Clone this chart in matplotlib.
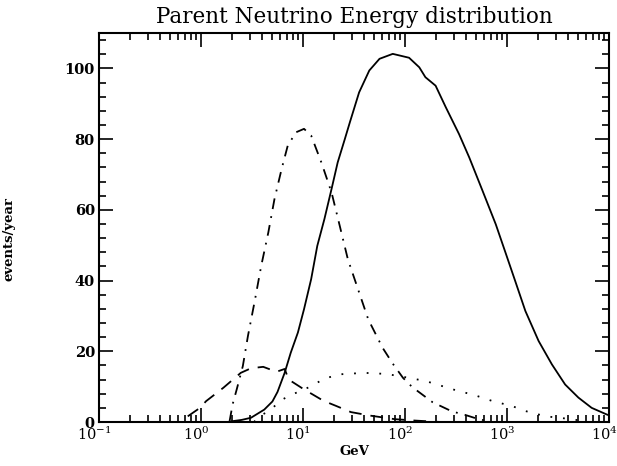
import numpy as np
import matplotlib
matplotlib.use("Agg")
import matplotlib.pyplot as plt
from matplotlib.ticker import LogLocator, MultipleLocator, LogFormatterMathtext
from matplotlib.transforms import ScaledTranslation

plt.rcParams['font.family'] = 'DejaVu Serif'
plt.rcParams['mathtext.fontset'] = 'dejavuserif'
plt.rcParams['mathtext.default'] = 'bf'

# curves: log10(E/GeV) and events/year
solid_logE = [0.28, 0.30, 0.40, 0.49, 0.62, 0.70, 0.75, 0.82, 0.88, 0.95, 1.01, 1.08,
              1.14, 1.21, 1.28, 1.34, 1.41, 1.46, 1.55, 1.65, 1.75, 1.88, 2.04, 2.14,
              2.20, 2.30, 2.40, 2.53, 2.63, 2.76, 2.89, 2.99, 3.08, 3.18, 3.31, 3.44,
              3.57, 3.70, 3.83, 3.98, 4.00]
solid_val = [0.0, 0.2, 0.6, 1.2, 3.5, 5.8, 8.5, 13.9, 19.6, 25.3, 31.9, 40.4,
             49.8, 57.4, 65.9, 73.4, 80.0, 84.8, 93.2, 99.4, 102.7, 104.1, 103.0, 100.3,
             97.5, 95.1, 89.0, 81.4, 74.8, 65.4, 55.9, 47.5, 39.9, 31.4, 22.9, 16.3,
             10.6, 6.9, 4.0, 2.1, 1.9]

dashdot_logE = [0.28, 0.31, 0.35, 0.41, 0.46, 0.53, 0.59, 0.66, 0.72, 0.79, 0.85, 0.93,
                1.01, 1.08, 1.18, 1.28, 1.36, 1.44, 1.54, 1.64, 1.78, 1.88, 1.98, 2.07,
                2.27, 2.46, 2.59, 2.70, 2.80]
dashdot_val = [0.2, 5.0, 9.2, 15.8, 24.3, 34.7, 44.1, 53.6, 63.0, 71.5, 78.1, 81.9,
               82.9, 81.0, 73.4, 64.9, 55.5, 46.0, 37.5, 29.0, 21.0, 16.5, 12.5, 9.9,
               5.6, 3.0, 2.0, 1.0, 0.3]

dashed_logE = [-0.13, -0.01, 0.05, 0.22, 0.39, 0.49, 0.61, 0.74, 0.82, 0.86, 1.00,
               1.20, 1.32, 1.47, 1.66, 1.90, 2.10, 2.35]
dashed_val = [1.6, 4.0, 5.9, 9.7, 13.9, 15.2, 15.6, 14.2, 15.0, 12.0, 9.4,
              6.0, 4.6, 2.8, 1.8, 0.8, 0.4, 0.0]

dotted_logE = [0.52, 0.57, 0.66, 0.80, 0.88, 1.08, 1.21, 1.37, 1.60, 1.81, 1.94,
               2.20, 2.53, 2.66, 2.86, 3.05, 3.18, 3.38, 3.57, 3.70]
dotted_val = [0.0, 1.6, 3.0, 6.4, 7.6, 10.1, 12.3, 13.5, 13.9, 13.6, 13.0,
              11.6, 8.7, 7.8, 5.9, 4.5, 3.1, 1.6, 1.0, 0.5]

fig = plt.figure(figsize=(6.17, 4.66), dpi=100)
ax = fig.add_axes([99 / 617, 1 - 422 / 466, 510 / 617, 389 / 466])

lw = 1.3
ax.plot(10 ** np.array(solid_logE), solid_val, color='black', lw=lw,
        solid_joinstyle='round')
ax.plot(10 ** np.array(dashdot_logE), dashdot_val, color='black', lw=lw,
        dashes=[6, 4, 1, 4])
ax.plot(10 ** np.array(dashed_logE), dashed_val, color='black', lw=lw,
        dashes=[7, 5])
ax.plot(10 ** np.array(dotted_logE), dotted_val, color='black', lw=lw,
        dashes=[1, 6])

ax.set_xscale('log')
ax.set_xlim(0.1, 1e4)
ax.set_ylim(0, 110)
ax.xaxis.set_major_locator(LogLocator(base=10, numticks=10))
ax.xaxis.set_minor_locator(LogLocator(base=10, subs=np.arange(2, 10), numticks=50))
ax.xaxis.set_major_formatter(LogFormatterMathtext())
ax.yaxis.set_major_locator(MultipleLocator(20))
ax.yaxis.set_minor_locator(MultipleLocator(4))

ax.tick_params(which='both', direction='in', top=True, right=True, width=1.2)
ax.tick_params(which='major', length=10, labelsize=10.5, pad=3)
ax.tick_params(which='minor', length=5)
for s in ax.spines.values():
    s.set_linewidth(1.5)

ax.set_xlabel('GeV', fontsize=9.5, fontweight='bold', labelpad=1)
ax.set_ylabel('events/year', fontsize=9.5, fontweight='bold')
ax.yaxis.set_label_coords(-0.163, 0.47)
ax.set_title('Parent Neutrino Energy distribution', fontsize=15.5, pad=7)

fig.canvas.draw()
for lab in ax.get_yticklabels():
    lab.set_fontweight('bold')
shift = ScaledTranslation(-5 / 100, 0, fig.dpi_scale_trans)
for lab in ax.get_xticklabels():
    lab.set_transform(lab.get_transform() + shift)

fig.savefig('out.png', dpi=100)
